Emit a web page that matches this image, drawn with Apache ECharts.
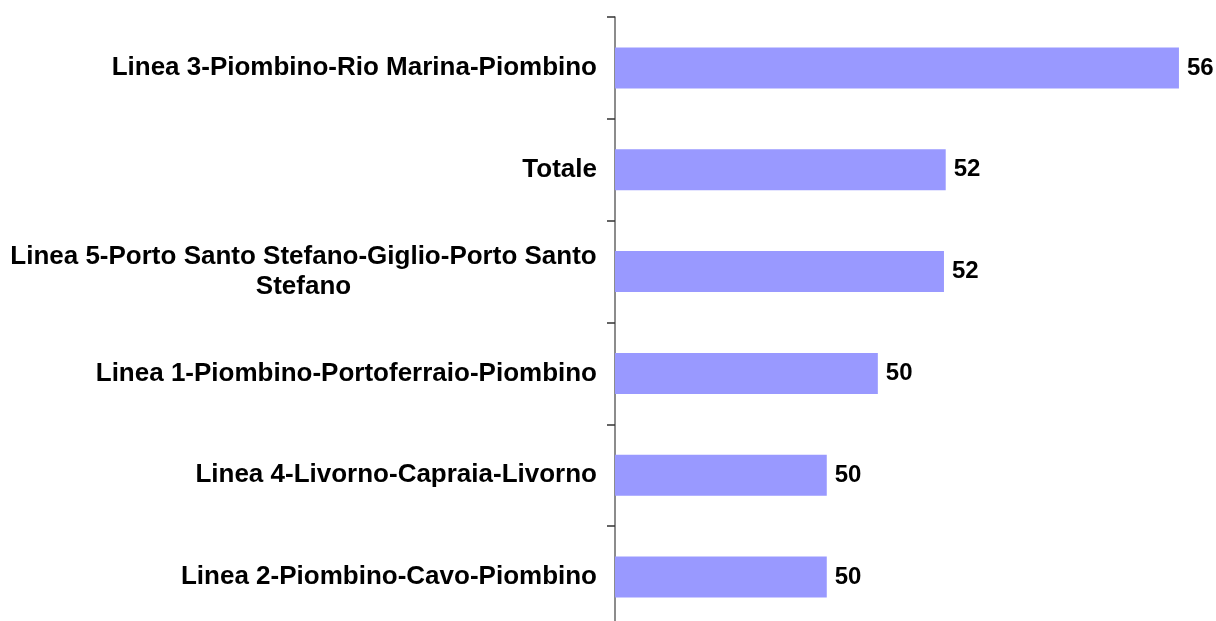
<!DOCTYPE html>
<html>
<head>
<meta charset="utf-8">
<script src="https://cdn.jsdelivr.net/npm/echarts@6/dist/echarts.min.js"></script>
<style>
  html, body { margin: 0; padding: 0; background: #fff; }
  #chart { width: 1216px; height: 621px; }
</style>
</head>
<body>
<div id="chart"></div>
<script>
  // categories from bottom to top (yAxis category order)
  var categories = [
    'Linea 2-Piombino-Cavo-Piombino',
    'Linea 4-Livorno-Capraia-Livorno',
    'Linea 1-Piombino-Portoferraio-Piombino',
    'Linea 5-Porto Santo Stefano-Giglio-Porto Santo\nStefano',
    'Totale',
    'Linea 3-Piombino-Rio Marina-Piombino'
  ];
  var values = [49.55, 49.55, 50.43, 51.57, 51.6, 55.62];

  var myChart = echarts.init(document.getElementById('chart'));
  var option = {
    animation: false,
    grid: {
      left: 615,
      top: 17,
      width: 586,
      height: 611,
      outerBoundsMode: 'none'
    },
    xAxis: {
      type: 'value',
      min: 45.9,
      max: 56,
      show: false
    },
    yAxis: {
      type: 'category',
      data: categories,
      axisLine: { show: true, lineStyle: { color: '#666', width: 1.5 } },
      axisTick: { show: true, length: 8, lineStyle: { color: '#333', width: 1.5 } },
      axisLabel: {
        margin: 18,
        color: '#000',
        fontFamily: 'Liberation Sans',
        fontWeight: 'bold',
        fontSize: 26,
        lineHeight: 30,
        align: 'right',
        formatter: function (v) {
          if (v.indexOf('\n') < 0) return v;
          // wrapped label: second line centred under the first
          return v.split('\n').map(function (s) { return '{w|' + s + '}'; }).join('\n');
        },
        rich: {
          w: {
            width: 587,
            align: 'center',
            color: '#000',
            fontFamily: 'Liberation Sans',
            fontWeight: 'bold',
            fontSize: 26,
            lineHeight: 30
          }
        }
      }
    },
    series: [{
      type: 'bar',
      data: values,
      barWidth: 41,
      itemStyle: { color: '#9999FF' },
      label: {
        show: true,
        position: 'right',
        distance: 8,
        color: '#000',
        fontFamily: 'Liberation Sans',
        fontWeight: 'bold',
        fontSize: 24,
        formatter: function (p) { return Math.round(p.value); }
      }
    }]
  };
  option && myChart.setOption(option);
</script>
</body>
</html>
